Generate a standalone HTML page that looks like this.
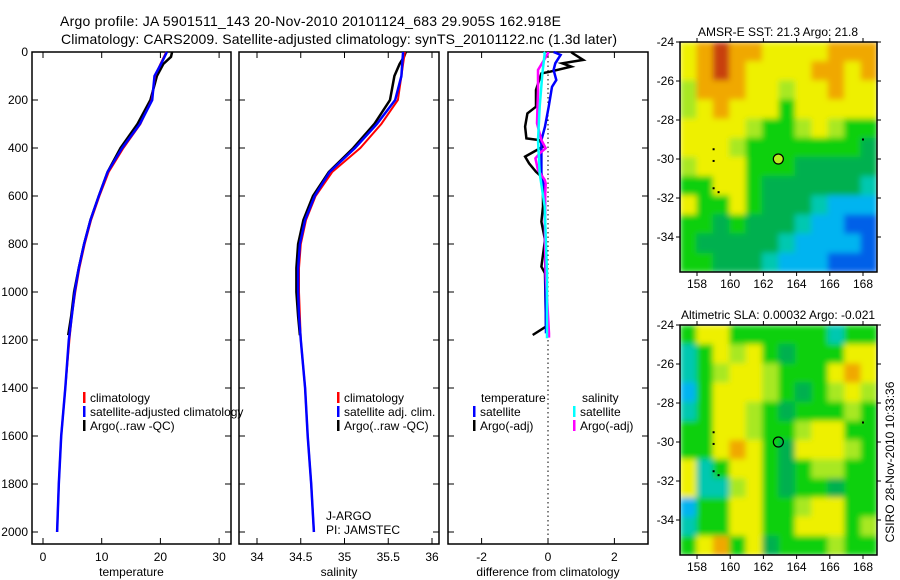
<!DOCTYPE html>
<html><head><meta charset="utf-8"><style>
body{margin:0;background:#fff}
svg{display:block;font-family:"Liberation Sans",sans-serif}
</style></head><body>
<svg id="s" width="900" height="580" viewBox="0 0 900 580" xmlns="http://www.w3.org/2000/svg">
<defs>
<filter id="bl" x="0" y="0" width="1" height="1"><feGaussianBlur stdDeviation="3" edgeMode="duplicate"/></filter>
<clipPath id="c1"><rect x="680" y="42" width="197" height="230"/></clipPath>
<clipPath id="c2"><rect x="680" y="325" width="197" height="230"/></clipPath>
</defs>
<text x="60" y="26" font-size="14" textLength="501">Argo profile: JA 5901511_143 20-Nov-2010 20101124_683 29.905S 162.918E</text>
<text x="61" y="44" font-size="14" textLength="556">Climatology: CARS2009. Satellite-adjusted climatology: synTS_20101122.nc (1.3d later)</text>
<g id="g"></g>
</svg>
<script>
// ---- data ----
const depths=[0,50,100,200,300,400,500,600,700,800,900,1000,1100,1200,1400,1600,1800,2000];
const tempClim=[21.0,20.0,19.1,18.5,16.6,13.7,11.2,9.6,8.2,7.1,6.2,5.5,4.9,4.5,3.8,3.1,2.7,2.4];
const tempSat=[21.1,20.1,19.0,18.6,16.5,13.5,11.0,9.5,8.1,7.0,6.1,5.4,4.9,4.4,3.8,3.1,2.7,2.4];
const argoDepths=[0,20,50,100,200,300,400,500,600,700,800,900,1000,1100,1180];
const tempArgo=[22.0,21.8,20.5,19.4,18.3,16.1,13.2,11.0,9.5,8.1,7.0,6.1,5.3,4.8,4.3];
const salClim=[35.69,35.67,35.65,35.61,35.42,35.18,34.86,34.67,34.56,34.5,34.48,34.48,34.49,34.5,34.55,34.58,34.62,34.65];
const salSat=[35.67,35.66,35.65,35.58,35.37,35.12,34.83,34.66,34.55,34.49,34.47,34.47,34.48,34.5,34.55,34.58,34.62,34.65];
const salArgo=[35.7,35.68,35.63,35.57,35.52,35.34,35.1,34.82,34.64,34.53,34.47,34.45,34.45,34.47,34.49];
const tdArgoD=[0,6,33,47,61,82,89,158,228,256,311,360,367,394,436,464,499,519,561,644,707,783,894,922,1144,1179];
const tdArgo=[0.7,0.75,1.06,0.43,0.7,0.06,-0.2,-0.36,-0.36,-0.62,-0.69,-0.65,-0.25,-0.15,-0.69,-0.57,-0.36,-0.2,-0.15,-0.15,-0.2,-0.09,-0.2,-0.09,-0.06,-0.46];
const tdSatD=[0,12,47,75,117,145,228,311,367,506,575,783,1172];
const tdSat=[0.17,0.38,0.22,0.17,0.25,0.12,0.02,-0.09,-0.2,-0.2,-0.09,-0.09,-0.06];
const sdArgoD=[0,6,75,158,297,367,401,422,443,492,533,547,617,783,922,1172,1190];
const sdArgo=[0.0,0.0,-0.3,-0.3,-0.33,-0.2,-0.07,-0.25,-0.38,-0.3,-0.1,-0.07,-0.09,-0.09,-0.07,0.03,0.03];
const ssSatD=[0,6,89,228,367,506,644,922,1193];
const ssSat=[-0.13,-0.1,-0.17,-0.25,-0.3,-0.25,-0.1,-0.03,-0.03];
const sstGrid=[
[7,8,9,8,8,7,7,7,7,8,8,8],
[7,8,9,8,7,7,7,7,8,8,7,8],
[6,8,8,8,7,7,6,7,7,8,7,7],
[6,7,8,7,7,7,5,7,7,7,7,7],
[7,7,7,7,6,5,5,6,7,6,5,5],
[7,7,7,6,5,5,5,5,5,5,5,4],
[6,7,7,7,5,5,5,4,4,4,4,4],
[5,5,7,7,5,4,4,4,4,4,4,3],
[7,5,5,7,5,4,4,4,3,2,2,2],
[5,5,4,5,4,4,4,3,2,2,1,1],
[5,4,4,4,4,4,3,2,2,2,2,1],
[5,5,4,4,4,3,2,2,2,1,1,1]];
const slaGrid=[
[5,7,7,5,5,5,5,5,5,3,5,5],
[3,5,7,6,7,5,4,5,5,5,7,7],
[3,5,6,7,7,6,5,5,5,7,8,7],
[2,5,7,7,7,6,5,4,5,6,7,6],
[3,5,7,7,6,5,4,5,5,5,6,5],
[5,5,7,7,6,5,5,6,7,7,5,5],
[5,5,7,8,7,5,4,7,7,7,6,5],
[7,3,5,7,7,5,4,5,6,6,5,5],
[7,3,3,6,7,5,4,5,5,4,5,5],
[2,5,5,7,7,5,5,6,7,7,5,5],
[3,5,5,7,7,5,5,7,7,7,5,6],
[5,7,8,5,7,4,5,5,5,6,5,5]];
const tempTicks=[0,10,20,30], salTicks=[34,34.5,35,35.5,36], diffTicks=[-2,0,2];
const depthTicks=[0,200,400,600,800,1000,1200,1400,1600,1800,2000];
const lonTicks=[158,160,162,164,166,168], latTicks=[-24,-26,-28,-30,-32,-34];
// ---- drawing ----
const NS='http://www.w3.org/2000/svg', G=document.getElementById('g');
function mk(t,a,p){const e=document.createElementNS(NS,t);for(const k in a)e.setAttribute(k,a[k]);(p||G).appendChild(e);return e;}
const yD=d=>52+0.24*d;
function panel(x0,x1,xs,ticks,lab,name,yl){
 const grp=mk('g',{});
 
 
 const r=mk('rect',{x:x0,y:52,width:x1-x0,height:492,fill:'none',stroke:'#000','stroke-width':1.5},grp);
 
 
 ticks.forEach(t=>{mk('line',{x1:xs(t),x2:xs(t),y1:544,y2:538,stroke:'#000'},grp);mk('line',{x1:xs(t),x2:xs(t),y1:52,y2:58,stroke:'#000'},grp);
  const tx=mk('text',{x:xs(t),y:561,'font-size':12,'text-anchor':'middle'},grp);tx.textContent=t;
  
  });
 depthTicks.forEach(d=>{mk('line',{x1:x0,x2:x0+6,y1:yD(d),y2:yD(d),stroke:'#000'},grp);mk('line',{x1:x1,x2:x1-6,y1:yD(d),y2:yD(d),stroke:'#000'},grp);
  if(yl){const tx=mk('text',{x:x0-4,y:yD(d)+4,'font-size':12,'text-anchor':'end'},grp);tx.textContent=d;
  
  }});
 const t=mk('text',{x:(x0+x1)/2,y:576,'font-size':12,'text-anchor':'middle'},grp);t.textContent=lab;
 
 
}
function line(ds,vs,xs,col,w,name){
 const p=ds.map((d,i)=>xs(vs[i]).toFixed(1)+','+yD(d).toFixed(1)).join(' ');
 const e=mk('polyline',{points:p,fill:'none',stroke:col,'stroke-width':w});
 
 
}
function leg(x,y,col,txt){
 mk('rect',{x:x,y:y-10,width:2.5,height:11,fill:col});
 const t=mk('text',{x:x+7,y:y,'font-size':12});t.textContent=txt;
 
 
}
const xT=v=>43+5.87*v, xS=v=>257+87.5*(v-34), xD=v=>548+33.2*v;
panel(32,231,xT,tempTicks,'temperature','temperature-panel',true);
line(argoDepths,tempArgo,xT,'#000',2.5,'temp-argo-line');
line(depths,tempClim,xT,'#f00',2,'temp-climatology-line');
line(depths,tempSat,xT,'#00f',2.5,'temp-satellite-line');
leg(83,402,'#f00','climatology');leg(83,416,'#00f','satellite-adjusted climatology');leg(83,430,'#000','Argo(..raw -QC)');
panel(239,439,xS,salTicks,'salinity','salinity-panel',false);
line(argoDepths,salArgo,xS,'#000',2.5,'sal-argo-line');
line(depths,salClim,xS,'#f00',2,'sal-climatology-line');
line(depths,salSat,xS,'#00f',2.5,'sal-satellite-line');
leg(337,402,'#f00','climatology');leg(337,416,'#00f','satellite adj. clim.');leg(337,430,'#000','Argo(..raw -QC)');
[['J-ARGO',520],['PI: JAMSTEC',534]].forEach(a=>{const t=mk('text',{x:326,y:a[1],'font-size':12});t.textContent=a[0];
 
 });
panel(448,648,xD,diffTicks,'difference from climatology','difference-panel',false);
mk('line',{x1:xD(0),x2:xD(0),y1:52,y2:544,stroke:'#000','stroke-dasharray':'1.5,3'});
line(tdArgoD,tdArgo,xD,'#000',2.5,'temp-diff-argo-line');
line(tdSatD,tdSat,xD,'#00f',2.5,'temp-diff-satellite-line');
line(sdArgoD,sdArgo,xD,'#f0f',2.5,'sal-diff-argo-line');
line(ssSatD,ssSat,xD,'#0ff',2.5,'sal-diff-satellite-line');
{const t=mk('text',{x:481,y:402,'font-size':12});t.textContent='temperature';
 const u=mk('text',{x:582,y:402,'font-size':12});u.textContent='salinity';}
leg(473,416,'#00f','satellite');leg(473,430,'#000','Argo(-adj)');leg(573,416,'#0ff','satellite');leg(573,430,'#f0f','Argo(-adj)');
// maps
const cmap=['#0040d0','#0060e8','#00b4f0','#00c8b0','#00b050','#10d010','#a8e820','#eef000','#f0a800','#c84010'];
function map(top,grid,title,name,dotFill,clip){
 const x0=680,x1=877,y1=top+230;
 const lx=v=>697+16.6*(v-158), ly=v=>top+19.5*(-24-v);
 const grp=mk('g',{});
 
 
 const cg=mk('g',{'clip-path':'url(#'+clip+')'},grp);
 const hg=mk('g',{filter:'url(#bl)'},cg);
 const cw=(x1-x0)/grid[0].length, ch=(y1-top)/grid.length;
 grid.forEach((row,r)=>row.forEach((v,c)=>{const e=mk('rect',{x:x0+c*cw,y:top+r*ch,width:cw+0.6,height:ch+0.6,fill:cmap[v]},hg);
  
  }));
 mk('rect',{x:x0,y:top,width:x1-x0,height:y1-top,fill:'none',stroke:'#000','stroke-width':1.5},grp);
 lonTicks.forEach(t=>{mk('line',{x1:lx(t),x2:lx(t),y1:top-4,y2:top,stroke:'#000'},grp);mk('line',{x1:lx(t),x2:lx(t),y1:y1,y2:y1+4,stroke:'#000'},grp);
  const tx=mk('text',{x:lx(t),y:y1+16,'font-size':12,'text-anchor':'middle'},grp);tx.textContent=t;
  
  });
 latTicks.forEach(t=>{mk('line',{x1:x0-4,x2:x0,y1:ly(t),y2:ly(t),stroke:'#000'},grp);mk('line',{x1:x1,x2:x1+4,y1:ly(t),y2:ly(t),stroke:'#000'},grp);
  const tx=mk('text',{x:x0-6,y:ly(t)+4,'font-size':12,'text-anchor':'end'},grp);tx.textContent=t;
  
  });
 const c=mk('circle',{cx:lx(162.9),cy:ly(-30),r:5,fill:dotFill,stroke:'#000','stroke-width':1.2},grp);
 
 
 [[159,-29.5],[159,-30.1],[159,-31.5],[159.3,-31.7],[168,-29]].forEach(p=>mk('rect',{x:lx(p[0])-1,y:ly(p[1])-1,width:2,height:2,fill:'#000'},grp));
 const t=mk('text',{x:778,y:top-6,'font-size':12,'text-anchor':'middle'},grp);t.textContent=title;
 
 
}
map(42,sstGrid,'AMSR-E SST: 21.3 Argo: 21.8','sst-map','#b8ec20','c1');
map(325,slaGrid,'Altimetric SLA: 0.00032 Argo: -0.021','sla-map','none','c2');
{const t=mk('text',{x:0,y:0,'font-size':12,'text-anchor':'middle',transform:'translate(894,462) rotate(-90)'});t.textContent='CSIRO 28-Nov-2010 10:33:36';
 
 }
</script>
</body></html>
